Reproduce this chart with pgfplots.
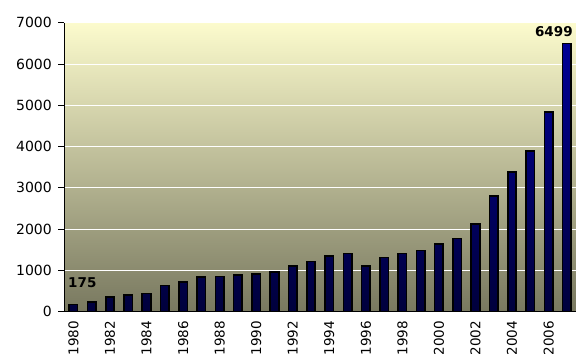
\documentclass[border=0pt]{standalone}
\usepackage{pgfplots}
\pgfplotsset{compat=1.18}
\usepackage{fontspec}
\setmainfont{DejaVu Sans}

\definecolor{bgtop}{RGB}{252,251,205}
\definecolor{bgbot}{RGB}{120,120,95}
\definecolor{bartop}{RGB}{0,0,150}
\definecolor{barbot}{RGB}{0,0,60}

\newcommand{\tickfont}{\fontsize{14bp}{16bp}\selectfont}
\newcommand{\yearfont}{\fontsize{13.5bp}{15bp}\selectfont}

\begin{document}
\begin{tikzpicture}
\begin{axis}[
  name=ax,
  scale only axis,
  width=511.7bp, height=289bp,
  xmin=-0.5, xmax=27.5,
  ymin=0, ymax=7000,
  axis x line*=bottom,
  axis y line*=left,
  axis line style={black, line width=1bp},
  tick align=outside,
  ytick={0,1000,...,7000},
  xtick={0,2,...,26},
  xticklabels={1980,1982,1984,1986,1988,1990,1992,1994,1996,1998,2000,2002,2004,2006},
  minor xtick={-0.5,0.5,...,27.5},
  major tick length=6bp,
  minor tick length=5bp,
  every x tick/.style={draw=none},
  every minor x tick/.style={black, line width=0.8bp},
  every y tick/.style={black, line width=0.8bp},
  ymajorgrids,
  major grid style={white, line width=0.9bp},
  axis background/.style={top color=bgtop, bottom color=bgbot},
  /pgf/number format/assume math mode=true,
  /pgf/number format/set thousands separator={},
  yticklabel style={font=\tickfont},
  yticklabel shift=3bp,
  xticklabel style={font=\yearfont, rotate=90, anchor=east},
  xticklabel shift=0bp,
  clip=false,
]
\addplot[ybar, bar width=8.5bp, bar shift=0pt, draw=black, line width=1.6bp,
         top color=bartop, bottom color=barbot]
  coordinates {
    (0,175) (1,230) (2,360) (3,400) (4,440) (5,630) (6,720) (7,840)
    (8,855) (9,890) (10,915) (11,955) (12,1105) (13,1215) (14,1355)
    (15,1410) (16,1105) (17,1310) (18,1410) (19,1480) (20,1640)
    (21,1770) (22,2130) (23,2800) (24,3390) (25,3890) (26,4840) (27,6499)
  };
\node[anchor=base west, inner sep=0pt, font=\fontsize{13.5bp}{15bp}\selectfont\bfseries,
      xshift=-5.4bp, yshift=17bp] at (axis cs:0,175) {175};
\node[anchor=base east, inner sep=0pt, font=\fontsize{13.5bp}{15bp}\selectfont\bfseries,
      xshift=6bp, yshift=6.5bp] at (axis cs:27,6499) {6499};
\coordinate (sw) at (rel axis cs:0,0);
\coordinate (ne) at (rel axis cs:1,1);
\end{axis}
\pgfresetboundingbox
\path[use as bounding box] ([xshift=-64.3bp,yshift=-44.3bp]sw) rectangle ([yshift=22.7bp]ne);
\end{tikzpicture}
\end{document}
